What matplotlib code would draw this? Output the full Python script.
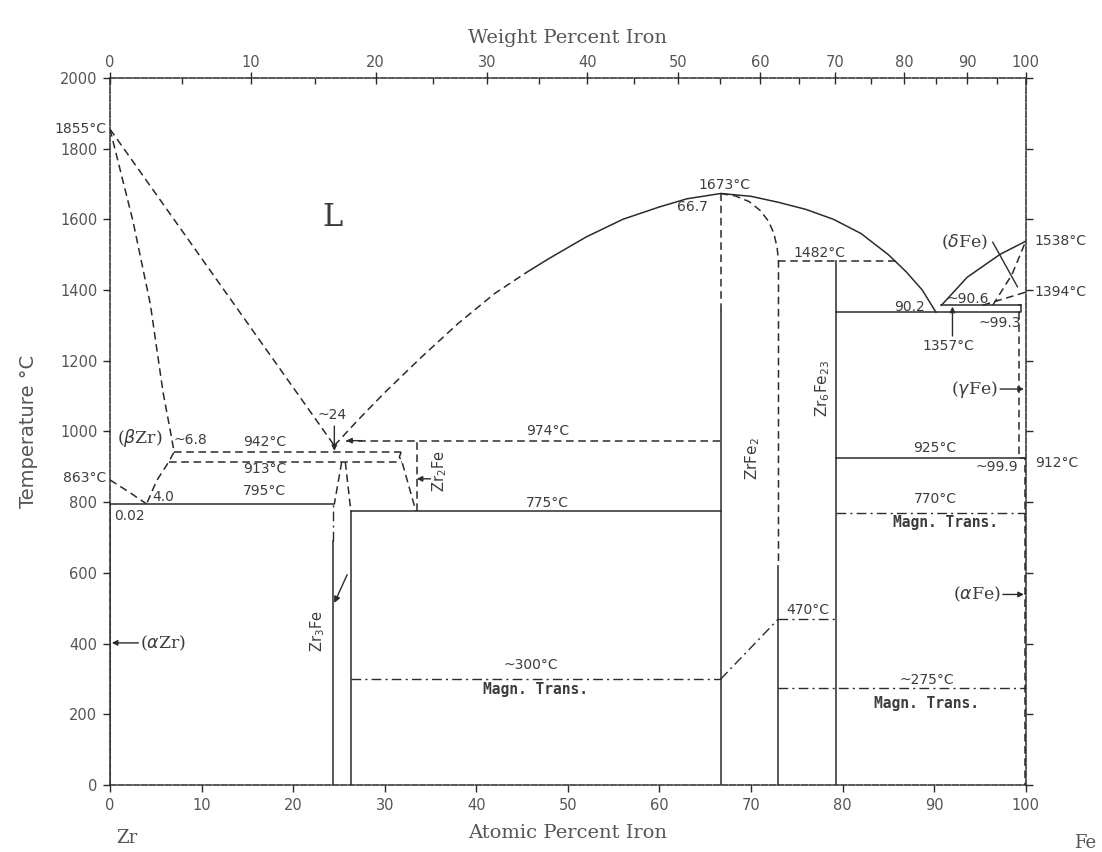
# -*- coding:utf-8 -*-
# Zr-Fe phase diagram (atomic percent Fe vs temperature)
import numpy as np
import matplotlib.pyplot as plt

M_FE, M_ZR = 55.845, 91.224  # atomic masses, for the weight percent axis

# ---- values (x = at.% Fe, t = deg C) ----
liq_zr_x = [0, 24.5]
liq_zr_t = [1855, 960]
sol_bzr_x = [0, 2.5, 4.4, 5.8, 6.6, 7.0, 6.4, 5.1, 4.0]
sol_bzr_t = [1855, 1596, 1361, 1110, 1000, 942, 913, 861, 795]
azr_x = [0, 2.0, 4.0]
azr_t = [863, 830, 795]
liq_dash_x = [24.5, 27, 30, 34, 38, 42, 45.5]
liq_dash_t = [960, 1030, 1110, 1210, 1305, 1390, 1450]
liq_x = [45.5, 48, 52, 56, 60, 63, 66.7, 70, 73, 76, 79, 82, 85, 87, 88.7, 90.2]
liq_t = [1450, 1490, 1550, 1600, 1635, 1658, 1673, 1665, 1648, 1628, 1600, 1560, 1500, 1450, 1400, 1337]
dfe_liq_x = [90.8, 93.6, 97.2, 100]
dfe_liq_t = [1357, 1436, 1501, 1538]
dfe_sol_x = [96.4, 98.5, 100]
dfe_sol_t = [1357, 1444, 1538]
gfe_x = [95.3, 100]
gfe_t = [1357, 1394]

# isotherms: (x start, x end, temperature)
solid_iso = [(0.02, 24.5, 795), (26.3, 66.7, 775), (79.3, 99.3, 1337),
             (90.8, 99.5, 1357), (79.3, 99.9, 925)]
dashed_iso = [(7.0, 31.8, 942), (6.4, 31.9, 913), (25.8, 66.7, 974), (73.0, 85.9, 1482)]
magn_iso = [(26.3, 66.7, 300), (73.0, 100, 275), (79.3, 100, 770), (73.0, 79.3, 470)]

# phase boundaries (x list, t list)
solid_bounds = [
    ([0.02, 0.02], [0, 795]),
    ([24.3, 24.3], [0, 690]),
    ([26.3, 26.3], [0, 775]),
    ([66.7, 66.7], [0, 1340]),
    ([73.0, 73.0], [0, 620]),
    ([79.3, 79.3], [0, 1482]),
    ([99.3, 99.5, 99.5, 99.3], [1337, 1337, 1357, 1357]),
]
dashed_bounds = [
    ([25.3, 24.5], [913, 795]),
    ([25.7, 26.3], [913, 775]),
    ([31.8, 31.6, 31.9, 33.4], [942, 928, 913, 775]),
    ([33.5, 33.5], [775, 974]),
    ([66.7, 66.7], [1340, 1673]),
    ([66.7, 68.3, 69.8, 71.0, 71.9, 72.5, 72.85, 73.0, 73.0],
     [1673, 1666, 1650, 1625, 1595, 1560, 1520, 1482, 620]),
    ([99.3, 99.3, 99.9, 99.9], [1337, 925, 925, 0]),
]
dashdot_bounds = [
    ([24.3, 24.3], [690, 795]),
    ([66.7, 73.0], [300, 470]),
]

x_ticks = list(range(0, 101, 10))
t_ticks = list(range(0, 2001, 200))
wt_ticks = list(range(0, 101, 10))
wt_minor = list(range(5, 100, 10))

LC = '#2b2b2b'   # line colour
TC = '#3c3c3c'   # text colour
DASH = (0, (5, 3))
DASHDOT = (0, (7, 3, 1.5, 3))


def at_to_wt(a):
    a = np.clip(np.asarray(a, dtype=float), 0, 100)
    return 100 * a * M_FE / (a * M_FE + (100 - a) * M_ZR)


def wt_to_at(w):
    w = np.clip(np.asarray(w, dtype=float), 0, 100)
    return 100 * (w / M_FE) / (w / M_FE + (100 - w) / M_ZR)


def arrow(ax, x0, x1, t0, t1=None, scale=8):
    # plain leader arrow from (x0, t0) to (x1, t1)
    t1 = t0 if t1 is None else t1
    ax.annotate('', xy=(x1, t1), xytext=(x0, t0),
                arrowprops=dict(arrowstyle='-|>', color=LC, lw=1, shrinkA=0, shrinkB=0,
                                mutation_scale=scale))


fig = plt.figure(figsize=(11.02, 8.52), dpi=100)
ax = fig.add_axes([0.0998, 0.0786, 0.831, 0.830])
ax.set_xlim(0, 100)
ax.set_ylim(0, 2000)

# liquidus / solidus curves
ax.plot(liq_zr_x, liq_zr_t, color=LC, lw=1.1, ls=DASH)
ax.plot(sol_bzr_x, sol_bzr_t, color=LC, lw=1.1, ls=DASH)
ax.plot(azr_x, azr_t, color=LC, lw=1.1, ls=DASH)
ax.plot(liq_dash_x, liq_dash_t, color=LC, lw=1.1, ls=DASH)
ax.plot(liq_x, liq_t, color=LC, lw=1.1)
ax.plot(dfe_liq_x, dfe_liq_t, color=LC, lw=1.1)
ax.plot(dfe_sol_x, dfe_sol_t, color=LC, lw=1.1, ls=DASH)
ax.plot(gfe_x, gfe_t, color=LC, lw=1.1, ls=DASH)

for x0, x1, t in solid_iso:
    ax.plot([x0, x1], [t, t], color=LC, lw=1.1)
for x0, x1, t in dashed_iso:
    ax.plot([x0, x1], [t, t], color=LC, lw=1.1, ls=DASH)
for x0, x1, t in magn_iso:
    ax.plot([x0, x1], [t, t], color=LC, lw=1.0, ls=DASHDOT)

for xs, ts in solid_bounds:
    ax.plot(xs, ts, color=LC, lw=1.1)
for xs, ts in dashed_bounds:
    ax.plot(xs, ts, color=LC, lw=1.1, ls=DASH)
for xs, ts in dashdot_bounds:
    ax.plot(xs, ts, color=LC, lw=1.0, ls=DASHDOT)

# (dFe) leader
ax.plot([96.4, 99.1], [1535, 1409], color=LC, lw=1.0)

# ---- axes look ----
for side in ['left', 'right', 'top', 'bottom']:
    ax.spines[side].set_linestyle((0, (4, 1.2)))
    ax.spines[side].set_linewidth(1.1)
    ax.spines[side].set_color(LC)

ax.set_xticks(x_ticks)
ax.set_yticks(t_ticks)
ax.tick_params(axis='both', direction='out', length=5, width=1, colors=LC,
               labelcolor='#555555', labelsize=10.5, pad=4)
ax.tick_params(axis='y', which='both', right=True, labelright=False)
ax.set_xlabel('Atomic Percent Iron', family='DejaVu Serif', fontsize=14,
              color='#555555', labelpad=8)
ax.set_ylabel('Temperature °C', fontsize=14, color='#555555', labelpad=16)

secax = ax.secondary_xaxis('top', functions=(at_to_wt, wt_to_at))
secax.set_xticks(wt_ticks)
secax.set_xticks(wt_minor, minor=True)
secax.spines['top'].set_visible(False)
secax.tick_params(which='major', direction='inout', length=8, width=1, colors=LC,
                  labelcolor='#555555', labelsize=10.5, pad=2)
secax.tick_params(which='minor', direction='in', length=4, width=1, colors=LC)
secax.set_xlabel('Weight Percent Iron', family='DejaVu Serif', fontsize=14,
                 color='#555555', labelpad=8)

# ---- labels inside the diagram ----
txt = dict(color=TC, fontsize=10, ha='center', va='center')
mono = dict(color=TC, fontsize=10.5, ha='center', va='center',
            family='DejaVu Sans Mono', fontweight='bold')
phase = dict(color=TC, fontsize=12.5, family='DejaVu Serif', va='center')

ax.text(24.3, 1606, 'L', fontsize=22, family='DejaVu Serif', color=TC,
        ha='center', va='center')
ax.text(-0.4, 1855, '1855°C', ha='right', va='center', color=TC, fontsize=10, clip_on=False)
ax.text(-0.4, 868, '863°C', ha='right', va='center', color=TC, fontsize=10, clip_on=False)
ax.text(3.3, 981, r'($\beta$Zr)', ha='center', **phase)
ax.text(8.8, 976, '~6.8', **txt)
ax.text(16.9, 969, '942°C', **txt)
ax.text(16.9, 895, '913°C', **txt)
ax.text(16.9, 832, '795°C', **txt)
ax.text(5.8, 815, '4.0', **txt)
ax.text(2.1, 762, '0.02', **txt)
ax.text(24.2, 1046, '~24', **txt)
arrow(ax, 24.5, 24.5, 1015, 945)
arrow(ax, 27.5, 25.8, 974)
ax.text(47.8, 1000, '974°C', **txt)
ax.text(47.8, 797, '775°C', **txt)
ax.text(36.0, 888, r'Zr$_2$Fe', rotation=90, color=TC, fontsize=10.5, ha='center', va='center')
arrow(ax, 35.0, 33.5, 866)
ax.text(22.7, 434, r'Zr$_3$Fe', rotation=90, color=TC, fontsize=10.5, ha='center', va='center')
arrow(ax, 25.9, 24.5, 595, 515, scale=9)
ax.text(45.9, 340, '~300°C', **txt)
ax.text(46.5, 269, 'Magn. Trans.', **mono)
ax.text(67.1, 1697, '1673°C', **txt)
ax.text(63.6, 1634, '66.7', **txt)
ax.text(70.2, 923, r'ZrFe$_2$', rotation=90, color=TC, fontsize=11, ha='center', va='center')
ax.text(77.8, 1123, r'Zr$_6$Fe$_{23}$', rotation=90, color=TC, fontsize=11,
        ha='center', va='center')
ax.text(77.5, 1504, '1482°C', **txt)
ax.text(76.2, 495, '470°C', **txt)
ax.text(93.3, 1535, r'($\delta$Fe)', ha='center', **phase)
ax.text(87.3, 1352, '90.2', **txt)
ax.text(93.7, 1375, '~90.6', **txt)
ax.text(97.2, 1306, '~99.3', **txt)
ax.text(91.5, 1243, '1357°C', **txt)
arrow(ax, 92.0, 92.0, 1270, 1353)
ax.text(97.0, 1120, r'($\gamma$Fe)', ha='right', **phase)
arrow(ax, 97.2, 99.8, 1120)
ax.text(90.1, 952, '925°C', **txt)
ax.text(96.8, 900, '~99.9', **txt)
ax.text(90.1, 808, '770°C', **txt)
ax.text(91.2, 742, 'Magn. Trans.', **mono)
ax.text(97.3, 539, r'($\alpha$Fe)', ha='right', **phase)
arrow(ax, 97.5, 99.8, 539)
ax.text(89.2, 297, '~275°C', **txt)
ax.text(89.2, 232, 'Magn. Trans.', **mono)
ax.text(3.3, 402, r'($\alpha$Zr)', ha='left', **phase)
arrow(ax, 3.1, 0.2, 402)

# labels on the right (pure Fe transformation points)
for t, lab in [(1538, '1538°C'), (1394, '1394°C'), (912, '912°C')]:
    ax.text(101.0, t, lab, ha='left', va='center', color=TC, fontsize=10, clip_on=False)

# element names below the axis
ax.text(1.8, -150, 'Zr', family='DejaVu Serif', fontsize=13, color='#555555',
        ha='center', va='center', clip_on=False)
ax.text(106.5, -165, 'Fe', family='DejaVu Serif', fontsize=13, color='#555555',
        ha='center', va='center', clip_on=False)

fig.savefig('out.png', dpi=100)
